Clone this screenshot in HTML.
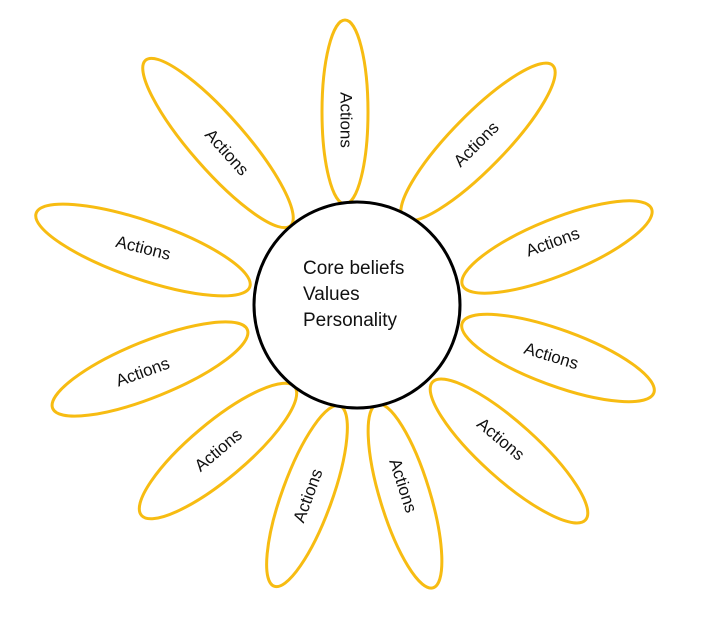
<!DOCTYPE html>
<html><head><meta charset="utf-8"><style>
html,body{margin:0;padding:0;background:#fff;width:707px;height:630px;overflow:hidden}
text{font-family:"Liberation Sans",sans-serif;fill:#111}
</style></head><body>
<svg width="707" height="630" viewBox="0 0 707 630" xmlns="http://www.w3.org/2000/svg">
<g fill="none" stroke="#F7BC12" stroke-width="3">
<ellipse cx="0" cy="0" rx="92" ry="23" transform="translate(345,112) rotate(90)"/>
<ellipse cx="0" cy="0" rx="110" ry="27" transform="translate(218,143) rotate(48.8)"/>
<ellipse cx="0" cy="0" rx="107" ry="27" transform="translate(478,142) rotate(-45.7)"/>
<ellipse cx="0" cy="0" rx="113" ry="29" transform="translate(143,250) rotate(19)"/>
<ellipse cx="0" cy="0" rx="102" ry="28" transform="translate(557,247) rotate(-22)"/>
<ellipse cx="0" cy="0" rx="102" ry="28" transform="translate(558,358) rotate(20)"/>
<ellipse cx="0" cy="0" rx="105" ry="28" transform="translate(150,369) rotate(-22)"/>
<ellipse cx="0" cy="0" rx="100" ry="28" transform="translate(218,451) rotate(-40)"/>
<ellipse cx="0" cy="0" rx="96" ry="25" transform="translate(307,496) rotate(-70)"/>
<ellipse cx="0" cy="0" rx="96" ry="25" transform="translate(405,496) rotate(73)"/>
<ellipse cx="0" cy="0" rx="103" ry="28" transform="translate(509,451) rotate(42)"/>
</g>
<circle cx="357" cy="305" r="103" fill="#fff" stroke="#000" stroke-width="3"/>
<g font-size="17" text-anchor="middle" dominant-baseline="middle">
<text transform="translate(345,120) rotate(90)">Actions</text>
<text transform="translate(226,153) rotate(48)">Actions</text>
<text transform="translate(477,145) rotate(-45)">Actions</text>
<text transform="translate(143,249) rotate(14)">Actions</text>
<text transform="translate(553,243) rotate(-20)">Actions</text>
<text transform="translate(551,357) rotate(17)">Actions</text>
<text transform="translate(143,373) rotate(-20)">Actions</text>
<text transform="translate(219,451) rotate(-40)">Actions</text>
<text transform="translate(309,496) rotate(-70)">Actions</text>
<text transform="translate(402,486) rotate(72)">Actions</text>
<text transform="translate(500,440) rotate(40)">Actions</text>
</g>
<g font-size="19">
<text x="303" y="274">Core beliefs</text>
<text x="303" y="300">Values</text>
<text x="303" y="326">Personality</text>
</g>
</svg>
</body></html>
